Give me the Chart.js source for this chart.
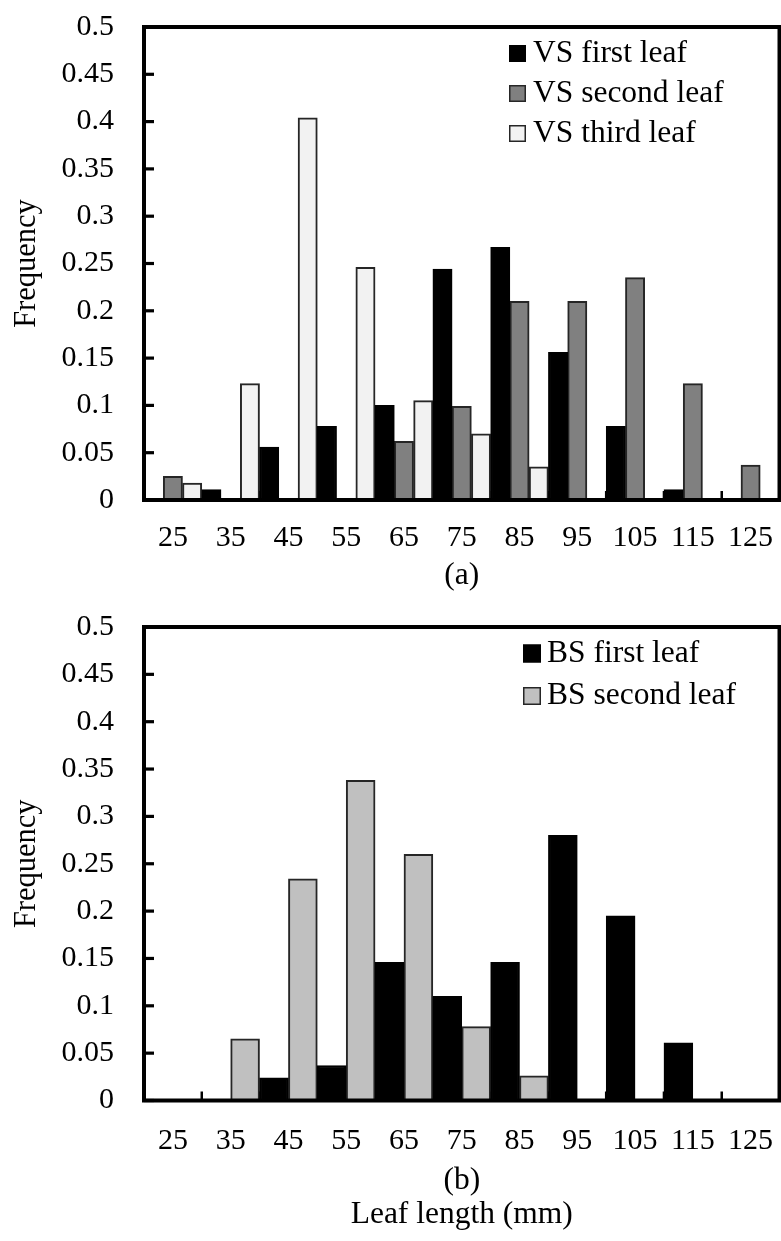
<!DOCTYPE html>
<html>
<head>
<meta charset="utf-8">
<script src="https://cdn.jsdelivr.net/npm/chart.js@4.4.1/dist/chart.umd.min.js"></script>
<style>
  html, body { margin: 0; padding: 0; background: #fff; }
  #wrap { position: relative; width: 781px; height: 1241px; }
  canvas { position: absolute; left: 0; }
  #chartA { top: 0; }
  #chartB { top: 600px; }
</style>
</head>
<body>
<div id="wrap">
  <canvas id="chartA" width="781" height="600"></canvas>
  <canvas id="chartB" width="781" height="641"></canvas>
</div>
<script>
// Leaf length bins (mm), shared by both panels
const categories = ['25', '35', '45', '55', '65', '75', '85', '95', '105', '115', '125'];

// Panel (a): VS leaves, frequency per bin
const vsFirst  = [0, 0.011, 0.056, 0.078, 0.1, 0.244, 0.267, 0.156, 0.078, 0.011, 0];
const vsSecond = [0.025, 0, 0, 0, 0.062, 0.099, 0.21, 0.21, 0.235, 0.123, 0.037];
const vsThird  = [0.018, 0.123, 0.404, 0.246, 0.105, 0.07, 0.035, 0, 0, 0, 0];

// Panel (b): BS leaves, frequency per bin
const bsFirst  = [0, 0, 0.024, 0.037, 0.146, 0.11, 0.146, 0.28, 0.195, 0.061, 0];
const bsSecond = [0, 0.065, 0.234, 0.338, 0.26, 0.078, 0.026, 0, 0, 0, 0];

// Frequency axis ticks
const yTickValues = [0, 0.05, 0.1, 0.15, 0.2, 0.25, 0.3, 0.35, 0.4, 0.45, 0.5];
const yTickLabels = ['0', '0.05', '0.1', '0.15', '0.2', '0.25', '0.3', '0.35', '0.4', '0.45', '0.5'];

const SERIF = '"Liberation Serif", "Times New Roman", Times, serif';
Chart.defaults.color = '#000';

// Boxed frame with inward tick marks, in the style of a spreadsheet chart
const framePlugin = {
  id: 'frame',
  beforeDatasetsDraw(chart) {
    const { ctx, chartArea: a, scales: { x } } = chart;
    ctx.save();
    ctx.strokeStyle = '#000';
    ctx.lineWidth = 2.5;
    for (let i = 1; i < x.ticks.length; i++) {
      const px = (x.getPixelForValue(i - 1) + x.getPixelForValue(i)) / 2;
      ctx.beginPath();
      ctx.moveTo(px, a.bottom);
      ctx.lineTo(px, a.bottom - 9);
      ctx.stroke();
    }
    ctx.restore();
  },
  afterDatasetsDraw(chart) {
    const { ctx, chartArea: a, scales: { y } } = chart;
    ctx.save();
    ctx.strokeStyle = '#000';
    ctx.lineWidth = 3.2;
    y.ticks.forEach((t, i) => {
      const py = y.getPixelForTick(i);
      ctx.beginPath();
      ctx.moveTo(a.left, py);
      ctx.lineTo(a.left + 10, py);
      ctx.stroke();
    });
    ctx.lineWidth = 4;
    ctx.strokeRect(a.left, a.top, a.right - a.left, a.bottom - a.top);
    ctx.restore();
  }
};

// Legend drawn inside the plot, upper right
const boxLegendPlugin = {
  id: 'boxLegend',
  afterDraw(chart, args, opts) {
    const ctx = chart.ctx;
    ctx.save();
    ctx.font = opts.fontSize + 'px ' + SERIF;
    ctx.textBaseline = 'middle';
    ctx.textAlign = 'left';
    chart.data.datasets.forEach((ds, i) => {
      const cy = opts.y + i * opts.gap;
      const s = opts.box;
      ctx.fillStyle = ds.backgroundColor;
      ctx.fillRect(opts.x, cy - s / 2, s, s);
      ctx.lineWidth = 1.5;
      ctx.strokeStyle = ds.borderColor;
      ctx.strokeRect(opts.x + 0.75, cy - s / 2 + 0.75, s - 1.5, s - 1.5);
      ctx.fillStyle = '#000';
      ctx.fillText(ds.label, opts.x + s + opts.textGap, cy);
    });
    ctx.restore();
  }
};

function barSet(label, data, fill, edge) {
  return {
    label, data,
    backgroundColor: fill,
    borderColor: edge,
    borderWidth: 2,
    categoryPercentage: 1,
    barPercentage: 1
  };
}

function makeOptions(cfg) {
  return {
    responsive: false,
    animation: false,
    events: [],
    layout: { padding: { top: 27, right: 1.5, left: 0, bottom: 0 } },
    plugins: {
      legend: { display: false },
      tooltip: { enabled: false },
      boxLegend: cfg.legend
    },
    scales: {
      x: {
        type: 'category',
        offset: true,
        grid: { display: false, drawTicks: false },
        border: { display: false },
        ticks: {
          font: { family: SERIF, size: 30, lineHeight: '34px' },
          padding: cfg.tickPad,
          maxRotation: 0,
          autoSkip: false
        },
        title: {
          display: true,
          text: cfg.xTitle,
          font: { family: SERIF, size: 31.5, lineHeight: '34px' },
          padding: { top: 0, bottom: cfg.titlePad }
        },
        afterFit(s) {
          s.height = cfg.xHeight;
          s.paddingLeft = 0;
          s.paddingRight = 0;
        }
      },
      y: {
        min: 0,
        max: 0.5,
        grid: { display: false, drawTicks: false },
        border: { display: false },
        afterBuildTicks(s) {
          s.ticks = yTickValues.map(v => ({ value: v }));
        },
        ticks: {
          font: { family: SERIF, size: 30, lineHeight: '34px' },
          padding: 30,
          callback: (v, i) => yTickLabels[i]
        },
        title: {
          display: true,
          text: 'Frequency',
          font: { family: SERIF, size: 30.5, lineHeight: '36px' },
          padding: { top: 9, bottom: 0 }
        },
        afterFit(s) {
          s.width = 144;
          s.paddingTop = 0;
          s.paddingBottom = 0;
        }
      }
    }
  };
}

new Chart(document.getElementById('chartA'), {
  type: 'bar',
  data: {
    labels: categories,
    datasets: [
      barSet('VS first leaf', vsFirst, '#000000', '#000000'),
      barSet('VS second leaf', vsSecond, '#808080', '#262626'),
      barSet('VS third leaf', vsThird, '#f2f2f2', '#262626')
    ]
  },
  options: makeOptions({
    xTitle: '(a)',
    xHeight: 100,
    tickPad: 21,
    titlePad: 7,
    legend: { x: 509, y: 53.5, gap: 40, box: 17, textGap: 7, fontSize: 31.5 }
  }),
  plugins: [framePlugin, boxLegendPlugin]
});

new Chart(document.getElementById('chartB'), {
  type: 'bar',
  data: {
    labels: categories,
    datasets: [
      barSet('BS first leaf', bsFirst, '#000000', '#000000'),
      barSet('BS second leaf', bsSecond, '#c0c0c0', '#262626')
    ]
  },
  options: makeOptions({
    xTitle: ['(b)', 'Leaf length (mm)'],
    xHeight: 140.5,
    tickPad: 23.5,
    titlePad: 9,
    legend: { x: 523, y: 53.5, gap: 42.5, box: 18, textGap: 6, fontSize: 31.5 }
  }),
  plugins: [framePlugin, boxLegendPlugin]
});
</script>
</body>
</html>
